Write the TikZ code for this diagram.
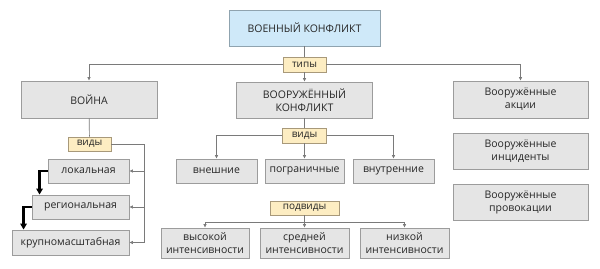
\documentclass[tikz,border=0pt]{standalone}
\usepackage{fontspec}
\setmainfont{Open Sans}
\usetikzlibrary{arrows.meta}

\definecolor{boxfill}{HTML}{E5E5E5}
\definecolor{boxline}{HTML}{9C9C9C}
\definecolor{topfill}{HTML}{CFE9F9}
\definecolor{topline}{HTML}{8FA3AF}
\definecolor{tagfill}{HTML}{FDEDC2}
\definecolor{tagline}{HTML}{A8997A}
\definecolor{linegray}{HTML}{7A7A7A}

\tikzset{
  box/.style={draw=boxline, fill=boxfill, line width=0.9pt, align=center, inner sep=0pt,
    font=\fontsize{10.5}{13}\selectfont, text=black!85},
  topbox/.style={box, draw=topline, fill=topfill},
  tag/.style={draw=tagline, fill=tagfill, line width=0.9pt, inner sep=0pt,
    font=\fontsize{10}{12}\selectfont, text=black!85},
  link/.style={draw=linegray, line width=0.7pt, -{Triangle[length=3.5pt,width=3pt]}},
  plain/.style={draw=linegray, line width=0.7pt},
  heavy/.style={draw=black, line width=2.3pt, -{Triangle[length=6pt,width=6.5pt]}},
}

\begin{document}
\begin{tikzpicture}[x=1pt, y=-1pt]
\useasboundingbox (0,0) rectangle (600,268);
% top level:
\node[topbox, minimum width=151pt, minimum height=36pt] (voen) at (304.5,28) {ВОЕННЫЙ КОНФЛИКТ};
\node[tag, minimum width=43pt, minimum height=15pt] (tipy) at (304.5,64.5) {типы};
% types:
\node[box, minimum width=136pt, minimum height=37pt] (vojna) at (89,99.5) {ВОЙНА};
\node[box, minimum width=136pt, minimum height=36pt] (vk) at (304.5,100) {ВООРУЖЁННЫЙ\\КОНФЛИКТ};
\node[box, minimum width=135pt, minimum height=37pt] (akcii) at (520.5,99.5) {Вооружённые\\акции};
\node[box, minimum width=135pt, minimum height=36pt] (incid) at (520.5,151) {Вооружённые\\инциденты};
\node[box, minimum width=135pt, minimum height=36pt] (provok) at (520.5,202) {Вооружённые\\провокации};
% armed conflict kinds:
\node[tag, minimum width=44pt, minimum height=15pt] (vidyk) at (304.5,135.5) {виды};
\node[box, minimum width=81pt, minimum height=24pt] (vnesh) at (216.5,171) {внешние};
\node[box, minimum width=79pt, minimum height=24pt] (pogr) at (304.5,171) {пограничные};
\node[box, minimum width=81pt, minimum height=24pt] (vnutr) at (393.5,171) {внутренние};
\node[tag, minimum width=69pt, minimum height=14pt] (podvidy) at (304.5,208) {подвиды};
\node[box, minimum width=88pt, minimum height=30pt] (vys) at (205,243) {высокой\\интенсивности};
\node[box, minimum width=89pt, minimum height=30pt] (sred) at (304.5,243) {средней\\интенсивности};
\node[box, minimum width=89pt, minimum height=30pt] (niz) at (404.5,243) {низкой\\интенсивности};
% war kinds:
\node[tag, minimum width=43pt, minimum height=14pt] (vidyv) at (89.5,144) {виды};
\node[box, minimum width=81pt, minimum height=24pt] (lok) at (88.5,171) {локальная};
\node[box, minimum width=97pt, minimum height=24pt] (reg) at (80.5,207) {региональная};
\node[box, minimum width=117pt, minimum height=25pt] (krup) at (70.5,242.5) {крупномасштабная};

\coordinate (vbar) at (144,144);
\coordinate (pvbar) at (304.5,222);

% connectors:
\draw[plain] (voen) -- (tipy);
\draw[link] (tipy.west) -| (vojna.north);
\draw[link] (tipy.east) -| (akcii.north);
\draw[link] (tipy) -- (vk);
\draw[plain] (vk) -- (vidyk);
\draw[link] (vidyk.west) -| (vnesh.north);
\draw[link] (vidyk.east) -| (vnutr.north);
\draw[link] (vidyk) -- (pogr);
\draw[plain] (podvidy) -- (pvbar);
\draw[link] (pvbar) -| (vys.north);
\draw[link] (pvbar) -| (niz.north);
\draw[link] (pvbar) -- (sred.north);
\draw[plain] (vojna) -- (vidyv);
\draw[link] (vidyv.east) -- (vbar) |- (krup.east);
\draw[link] (vbar |- lok.east) -- (lok.east);
\draw[link] (vbar |- reg.east) -- (reg.east);
\draw[heavy] (lok.west) -| ([xshift=8pt]reg.north west);
\draw[heavy] (reg.west) -| ([xshift=12pt]krup.north west);
\end{tikzpicture}
\end{document}
